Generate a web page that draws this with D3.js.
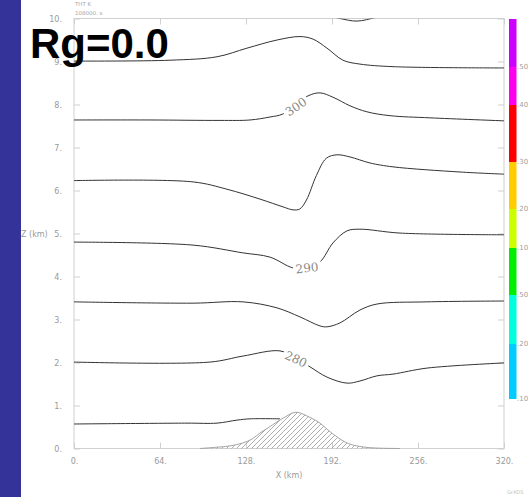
<!DOCTYPE html>
<html><head><meta charset="utf-8">
<script src="https://cdn.jsdelivr.net/npm/d3@7"></script>
<style>body{margin:0;background:#fff;overflow:hidden} svg{display:block}</style>
</head><body>
<script>
// ---- data (km) ----
const xTicks = [0, 64, 128, 192, 256, 320];
const xTickLabels = ["0.", "64.", "128.", "192.", "256.", "320."];
const zTicks = [0, 1, 2, 3, 4, 5, 6, 7, 8, 9, 10];
const zTickLabels = ["0.", "1.", "2.", "3.", "4.", "5.", "6.", "7.", "8.", "9.", "10."];
const levels = [275, 280, 285, 290, 295, 300, 305, 310];
const c275 = [[0,0.57],[84.1,0.59],[106.4,0.59],[121.3,0.66],[131.0,0.69],[153.3,0.69]];
const c280 = [[0,2.01],[101.2,2.01],[125.8,2.15],[153.3,2.27],[165.2,2.10],[175.6,1.90],[188.3,1.66],[203.2,1.52],[212.8,1.57],[225.5,1.69],[237.4,1.73],[262.7,1.87],[320,1.99]];
const c285 = [[0,3.41],[88.6,3.38],[125.8,3.41],[151.1,3.27],[168.2,3.06],[183.1,2.85],[188.3,2.83],[197.9,2.92],[212.8,3.22],[225.5,3.36],[262.7,3.41],[320,3.43]];
const c290 = [[0,4.80],[88.6,4.73],[125.6,4.55],[145.9,4.45],[163.0,4.20],[173.4,4.20],[183.1,4.34],[192.7,4.78],[203.1,5.06],[212.8,5.10],[242.6,5.01],[320,4.97]];
const c295 = [[0,6.23],[88.6,6.20],[113.8,6.03],[138.4,5.80],[155.5,5.62],[163.0,5.55],[168.0,5.57],[173.0,5.78],[180.4,6.35],[187.8,6.75],[195.7,6.83],[205.4,6.78],[220.3,6.64],[237.4,6.55],[287.3,6.43],[320,6.38]];
const c300 = [[0,7.64],[56.6,7.64],[108.7,7.63],[131.0,7.64],[145.9,7.71],[155.5,7.78],[174.1,8.20],[183.1,8.27],[192.7,8.17],[205.4,7.97],[218.0,7.83],[235.2,7.74],[264.9,7.69],[320,7.62]];
const c305 = [[0,9.01],[71.4,9.03],[106.4,9.11],[128.7,9.31],[151.1,9.50],[168.2,9.58],[177.9,9.52],[188.3,9.31],[200.2,9.03],[212.8,8.94],[237.4,8.88],[320,8.85]];
const c310 = [[190.5,10.06],[198.0,10.00],[210.6,9.94],[224.0,10.02],[231.4,10.08]];
const terrain = [[93.8,0],[106.4,0.03],[116.1,0.06],[125.8,0.13],[132.5,0.22],[138.4,0.36],[144.4,0.48],[151.1,0.62],[157.0,0.73],[163.0,0.83],[166.7,0.84],[170.4,0.80],[176.4,0.71],[183.1,0.59],[189.0,0.43],[195.7,0.27],[201.7,0.15],[207.6,0.08],[216.6,0.03],[225.5,0.01],[242.6,0]];
const contourLabels = ["280", "290", "300"];
const labelAt = [[165.2,2.08], [173.4,4.20], [165.2,7.95]];
const labelAngle = [25, -6, -35];
const barColors = ["#00ccff","#00ffdd","#00ee00","#ccff00","#ffcc00","#ff0000","#ff00ee","#cc00ff"];
const barLabels = [".10", ".20", ".50", ".10", ".20", ".30", ".40", ".50"];
const barStops = [0, 1, 2, 3, 4, 5, 6, 7, 8];
const barBounds = [399, 344, 295, 248, 209, 162, 105, 67, 19];

const W = 528, H = 497;
const svg = d3.select("body").append("svg").attr("width", W).attr("height", H)
  .style("font-family", "'DejaVu Sans', sans-serif");

const pL = 74, pR = 504, pT = 18.5, pB = 448.5;
const x = d3.scaleLinear().domain([0, 320]).range([pL, pR]);
const y = d3.scaleLinear().domain([0, 10]).range([pB, pT]);

// blue band
svg.append("rect").attr("x", 0).attr("y", 0).attr("width", 21).attr("height", H).attr("fill", "#333399");

// hatch pattern
const defs = svg.append("defs");
const pat = defs.append("pattern").attr("id", "hatch").attr("patternUnits", "userSpaceOnUse")
  .attr("width", 5).attr("height", 5);
pat.append("path").attr("d", "M-1,1 L1,-1 M0,5 L5,0 M4,6 L6,4").attr("stroke", "#8a8a8a").attr("stroke-width", 0.7);
defs.append("clipPath").attr("id", "plotclip").append("rect")
  .attr("x", pL).attr("y", pT).attr("width", pR - pL).attr("height", pB - pT);

// frame
svg.append("rect").attr("x", pL).attr("y", pT).attr("width", pR - pL).attr("height", pB - pT)
  .attr("fill", "none").attr("stroke", "#d0d0d0").attr("stroke-width", 1);

// axes via d3 axis (inner ticks)
const gx = svg.append("g").attr("transform", `translate(0,${pB})`)
  .call(d3.axisBottom(x).tickValues(xTicks).tickSize(-6).tickPadding(10).tickFormat((d, i) => xTickLabels[i]));
const gxt = svg.append("g").attr("transform", `translate(0,${pT})`)
  .call(d3.axisTop(x).tickValues(xTicks).tickSize(-6).tickFormat(""));
const gy = svg.append("g").attr("transform", `translate(${pL},0)`)
  .call(d3.axisLeft(y).tickValues(zTicks).tickSize(-6).tickPadding(12).tickFormat((d, i) => zTickLabels[i]));
const gyr = svg.append("g").attr("transform", `translate(${pR},0)`)
  .call(d3.axisRight(y).tickValues(zTicks).tickSize(-6).tickFormat(""));
[gx, gxt, gy, gyr].forEach(g => {
  g.select(".domain").remove();
  g.selectAll(".tick line").attr("stroke", "#cfcfcf");
  g.selectAll(".tick text").attr("fill", "#9a9a9a").style("font-size", "8px").style("font-family", "'DejaVu Sans', sans-serif");
});

// axis titles
svg.append("text").attr("x", x(160)).attr("y", 478).attr("text-anchor", "middle")
  .attr("fill", "#9a9a9a").style("font-size", "8px").text("X (km)");
svg.append("text").attr("x", 21).attr("y", y(5) + 3).attr("fill", "#9a9a9a").style("font-size", "8px").text("Z (km)");
svg.append("text").attr("x", 75).attr("y", 6).attr("fill", "#a8a8a8").style("font-size", "5.5px").text("THT K");
svg.append("text").attr("x", 75).attr("y", 15).attr("fill", "#a8a8a8").style("font-size", "5.5px").text("108000. s");
svg.append("text").attr("x", 507).attr("y", 494).attr("fill", "#c0c0c0").style("font-size", "5px").text("GrADS");

// terrain
const area = d3.area().x(d => x(d[0])).y0(y(0)).y1(d => y(d[1])).curve(d3.curveCatmullRom.alpha(0.5));
svg.append("path").datum(terrain).attr("d", area).attr("fill", "url(#hatch)").attr("stroke", "none");
const tline = d3.line().x(d => x(d[0])).y(d => y(d[1])).curve(d3.curveCatmullRom.alpha(0.5));
svg.append("path").datum(terrain).attr("d", tline).attr("fill", "none").attr("stroke", "#9a9a9a").attr("stroke-width", 0.9);

// contours
const contours = [c275, c280, c285, c290, c295, c300, c305, c310];
const line = d3.line().x(d => x(d[0])).y(d => y(d[1])).curve(d3.curveCatmullRom.alpha(0.5));
const cg = svg.append("g").attr("clip-path", "url(#plotclip)");
cg.selectAll("path.c").data(contours).join("path").attr("class", "c")
  .attr("d", line).attr("fill", "none").attr("stroke", "#333").attr("stroke-width", 1);

// contour labels
contourLabels.forEach((t, i) => {
  const g = svg.append("g").attr("transform", `translate(${x(labelAt[i][0])},${y(labelAt[i][1])}) rotate(${labelAngle[i]})`);
  g.append("rect").attr("x", -14).attr("y", -6).attr("width", 28).attr("height", 12).attr("fill", "#fff");
  g.append("text").attr("text-anchor", "middle").attr("dy", "0.36em").attr("fill", "#8a8a8a")
    .style("font-size", "12px").style("font-family", "'DejaVu Serif', serif").text(t);
});

// colour bar
const barY = d3.scaleLinear().domain(barStops).range(barBounds);
barColors.forEach((c, i) => {
  svg.append("rect").attr("x", 509).attr("width", 7.5)
    .attr("y", barY(i + 1)).attr("height", barY(i) - barY(i + 1)).attr("fill", c);
  svg.append("text").attr("x", 517).attr("y", barY(i) + 2).attr("fill", "#a0a0a0")
    .style("font-size", "7px").text(barLabels[i]);
});

// big title
svg.append("text").attr("x", 30).attr("y", 58).attr("fill", "#000")
  .style("font-family", "'Liberation Sans', Arial, sans-serif").style("font-weight", "bold")
  .style("font-size", "42px").text("Rg=0.0");
</script>
</body></html>
